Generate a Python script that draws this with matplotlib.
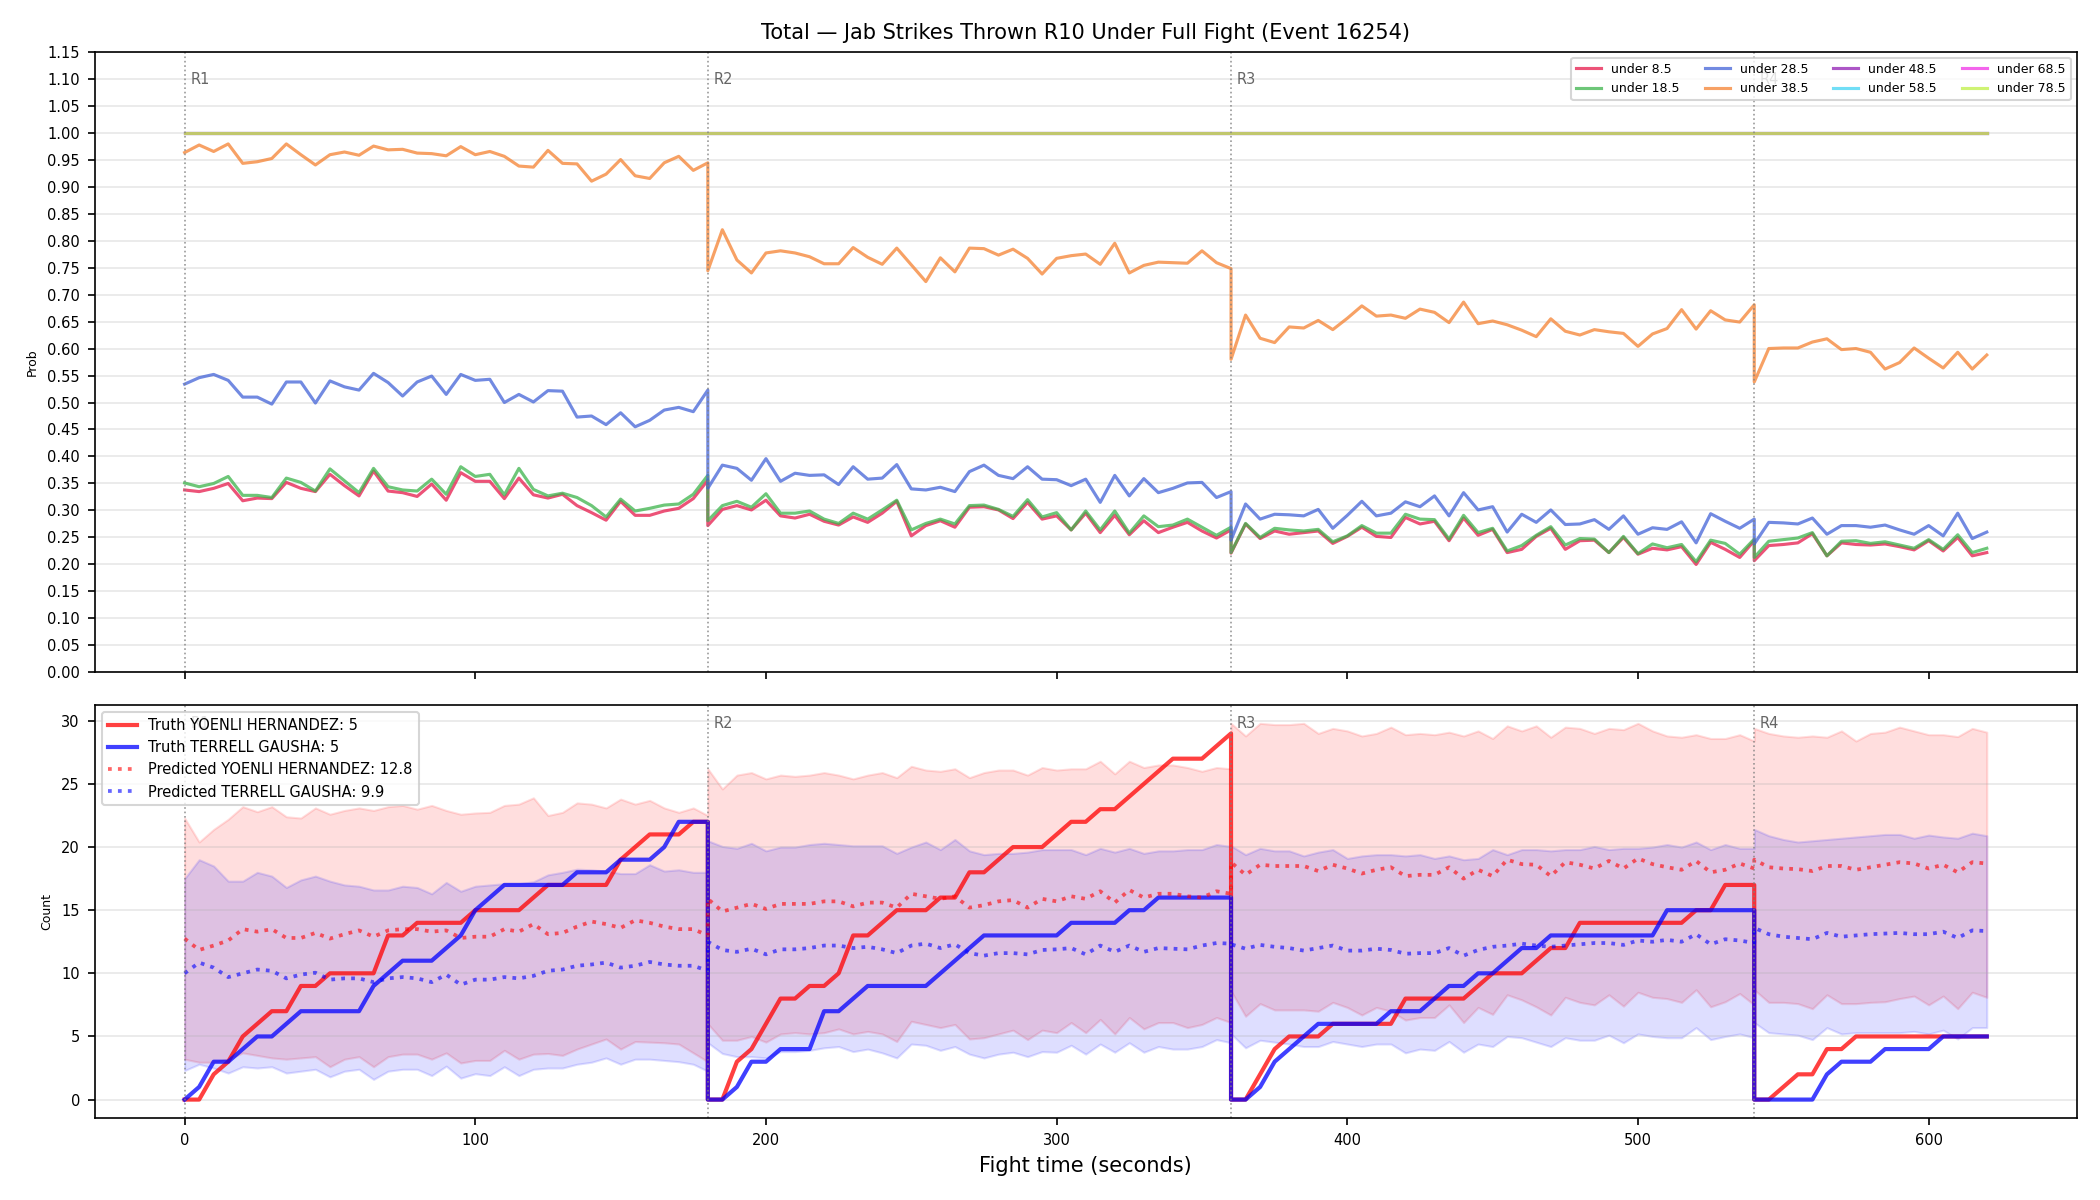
"""Live jab-strike totals: bucket probabilities over fight time, plus
truth vs predicted counts per fighter with prediction bands."""

import matplotlib
matplotlib.use("Agg")

import matplotlib.pyplot as plt
import matplotlib.transforms as mtransforms
import numpy as np

# round windows (seconds) and the sampling step of the model snapshots
ROUND_SPANS = [(0, 180), (180, 360), (360, 540), (540, 620)]
ROUND_NAMES = ["R1", "R2", "R3", "R4"]
STEP = 5

THRESHOLDS = ["under 8.5", "under 18.5", "under 28.5", "under 38.5",
              "under 48.5", "under 58.5", "under 68.5", "under 78.5"]
LINE_COLORS = ["#e6194b", "#3cb44b", "#4363d8", "#f58231",
               "#911eb4", "#42d4f4", "#f032e6", "#bfef45"]

# P(total under line), one list per round
p_under_8_5 = [
    [0.338, 0.335, 0.341, 0.350, 0.318, 0.323, 0.322, 0.352, 0.341, 0.335, 0.367, 0.346, 0.327,
     0.373, 0.336, 0.333, 0.326, 0.349, 0.319, 0.370, 0.354, 0.354, 0.322, 0.360, 0.329, 0.323,
     0.330, 0.309, 0.296, 0.282, 0.317, 0.291, 0.291, 0.299, 0.304, 0.322, 0.356],
    [0.272, 0.302, 0.309, 0.301, 0.319, 0.290, 0.286, 0.293, 0.280, 0.273, 0.288, 0.278, 0.295,
     0.317, 0.253, 0.272, 0.281, 0.269, 0.306, 0.307, 0.301, 0.285, 0.315, 0.284, 0.290, 0.264,
     0.295, 0.259, 0.291, 0.255, 0.281, 0.259, 0.269, 0.278, 0.262, 0.249, 0.264],
    [0.221, 0.275, 0.248, 0.262, 0.256, 0.259, 0.262, 0.239, 0.252, 0.269, 0.252, 0.250, 0.287,
     0.275, 0.280, 0.244, 0.286, 0.254, 0.265, 0.222, 0.228, 0.252, 0.267, 0.228, 0.244, 0.245,
     0.222, 0.250, 0.219, 0.230, 0.227, 0.233, 0.200, 0.241, 0.228, 0.213, 0.244],
    [0.207, 0.235, 0.237, 0.240, 0.257, 0.216, 0.240, 0.237, 0.236, 0.238, 0.233, 0.227, 0.244,
     0.225, 0.250, 0.216, 0.222],
]
p_under_18_5 = [
    [0.351, 0.344, 0.350, 0.363, 0.328, 0.328, 0.324, 0.360, 0.352, 0.336, 0.377, 0.355, 0.333,
     0.378, 0.344, 0.338, 0.336, 0.358, 0.330, 0.381, 0.363, 0.367, 0.329, 0.378, 0.339, 0.327,
     0.332, 0.324, 0.309, 0.288, 0.321, 0.299, 0.304, 0.310, 0.312, 0.330, 0.365],
    [0.281, 0.309, 0.317, 0.306, 0.331, 0.295, 0.295, 0.299, 0.284, 0.276, 0.295, 0.284, 0.301,
     0.319, 0.264, 0.276, 0.284, 0.275, 0.309, 0.310, 0.302, 0.289, 0.320, 0.288, 0.296, 0.264,
     0.299, 0.264, 0.299, 0.258, 0.290, 0.270, 0.273, 0.284, 0.269, 0.254, 0.269],
    [0.222, 0.276, 0.250, 0.267, 0.264, 0.262, 0.265, 0.242, 0.253, 0.272, 0.258, 0.258, 0.293,
     0.284, 0.283, 0.247, 0.291, 0.259, 0.267, 0.225, 0.235, 0.254, 0.270, 0.236, 0.248, 0.247,
     0.222, 0.252, 0.220, 0.238, 0.231, 0.237, 0.205, 0.245, 0.239, 0.219, 0.247],
    [0.213, 0.243, 0.246, 0.249, 0.259, 0.216, 0.243, 0.244, 0.239, 0.242, 0.236, 0.230, 0.246,
     0.228, 0.255, 0.222, 0.230],
]
p_under_28_5 = [
    [0.534, 0.546, 0.552, 0.541, 0.510, 0.510, 0.497, 0.538, 0.538, 0.499, 0.540, 0.529, 0.523,
     0.554, 0.537, 0.512, 0.538, 0.549, 0.515, 0.552, 0.541, 0.543, 0.500, 0.515, 0.501, 0.522,
     0.521, 0.473, 0.475, 0.459, 0.481, 0.455, 0.467, 0.486, 0.491, 0.483, 0.523],
    [0.341, 0.384, 0.378, 0.356, 0.396, 0.354, 0.369, 0.365, 0.366, 0.348, 0.381, 0.358, 0.360,
     0.385, 0.340, 0.338, 0.343, 0.335, 0.372, 0.384, 0.365, 0.359, 0.381, 0.358, 0.357, 0.346,
     0.358, 0.315, 0.365, 0.327, 0.359, 0.333, 0.341, 0.351, 0.352, 0.324, 0.335],
    [0.245, 0.312, 0.284, 0.293, 0.292, 0.290, 0.302, 0.267, 0.291, 0.317, 0.290, 0.295, 0.316,
     0.307, 0.327, 0.290, 0.333, 0.301, 0.307, 0.260, 0.293, 0.278, 0.301, 0.274, 0.275, 0.283,
     0.265, 0.290, 0.256, 0.268, 0.265, 0.279, 0.240, 0.294, 0.280, 0.267, 0.284],
    [0.238, 0.278, 0.277, 0.275, 0.286, 0.256, 0.272, 0.272, 0.269, 0.273, 0.264, 0.256, 0.272,
     0.253, 0.295, 0.248, 0.260],
]
p_under_38_5 = [
    [0.963, 0.977, 0.965, 0.979, 0.943, 0.946, 0.952, 0.979, 0.959, 0.940, 0.959, 0.964, 0.958,
     0.975, 0.968, 0.969, 0.962, 0.961, 0.957, 0.974, 0.959, 0.965, 0.956, 0.938, 0.936, 0.967,
     0.943, 0.942, 0.910, 0.923, 0.950, 0.920, 0.915, 0.944, 0.956, 0.930, 0.944],
    [0.744, 0.820, 0.764, 0.740, 0.777, 0.781, 0.777, 0.770, 0.757, 0.757, 0.787, 0.769, 0.756,
     0.786, 0.755, 0.724, 0.768, 0.742, 0.786, 0.785, 0.773, 0.784, 0.767, 0.738, 0.767, 0.772,
     0.775, 0.756, 0.795, 0.740, 0.754, 0.760, 0.759, 0.758, 0.781, 0.759, 0.748],
    [0.580, 0.662, 0.619, 0.611, 0.640, 0.638, 0.652, 0.635, 0.656, 0.679, 0.660, 0.662, 0.656,
     0.673, 0.667, 0.648, 0.686, 0.646, 0.651, 0.644, 0.634, 0.622, 0.655, 0.632, 0.625, 0.635,
     0.631, 0.628, 0.604, 0.627, 0.637, 0.672, 0.636, 0.670, 0.653, 0.649, 0.681],
    [0.538, 0.600, 0.601, 0.601, 0.612, 0.618, 0.598, 0.600, 0.593, 0.562, 0.574, 0.601, 0.582,
     0.564, 0.593, 0.562, 0.588],
]
# lines 48.5 and up sit at certainty the whole fight
p_high_lines = 1.0

# cumulative truth counts per fighter
truth_hernandez = [
    [0, 0, 2, 3, 5, 6, 7, 7, 9, 9, 10, 10, 10, 10, 13, 13, 14, 14, 14, 14, 15, 15, 15, 15, 16,
     17, 17, 17, 17, 17, 19, 20, 21, 21, 21, 22, 22],
    [0, 0, 3, 4, 6, 8, 8, 9, 9, 10, 13, 13, 14, 15, 15, 15, 16, 16, 18, 18, 19, 20, 20, 20, 21,
     22, 22, 23, 23, 24, 25, 26, 27, 27, 27, 28, 29],
    [0, 0, 2, 4, 5, 5, 5, 6, 6, 6, 6, 6, 8, 8, 8, 8, 8, 9, 10, 10, 10, 11, 12, 12, 14, 14, 14,
     14, 14, 14, 14, 14, 15, 15, 17, 17, 17],
    [0, 0, 1, 2, 2, 4, 4, 5, 5, 5, 5, 5, 5, 5, 5, 5, 5],
]
truth_gausha = [
    [0, 1, 3, 3, 4, 5, 5, 6, 7, 7, 7, 7, 7, 9, 10, 11, 11, 11, 12, 13, 15, 16, 17, 17, 17, 17,
     17, 18, 18, 18, 19, 19, 19, 20, 22, 22, 22],
    [0, 0, 1, 3, 3, 4, 4, 4, 7, 7, 8, 9, 9, 9, 9, 9, 10, 11, 12, 13, 13, 13, 13, 13, 13, 14, 14,
     14, 14, 15, 15, 16, 16, 16, 16, 16, 16],
    [0, 0, 1, 3, 4, 5, 6, 6, 6, 6, 6, 7, 7, 7, 8, 9, 9, 10, 10, 11, 12, 12, 13, 13, 13, 13, 13,
     13, 13, 13, 15, 15, 15, 15, 15, 15, 15],
    [0, 0, 0, 0, 0, 2, 3, 3, 3, 4, 4, 4, 4, 5, 5, 5, 5],
]

# model predicted totals
pred_hernandez = [
    [12.75, 11.85, 12.2, 12.6, 13.5, 13.3, 13.5, 12.8, 12.8, 13.2, 12.75, 13.1, 13.4, 12.9, 13.4,
     13.5, 13.5, 13.3, 13.4, 12.8, 12.9, 12.9, 13.5, 13.3, 13.9, 13.1, 13.2, 13.7, 14.1, 13.9,
     13.6, 14.2, 14.0, 13.7, 13.5, 13.5, 13.0],
    [15.9, 14.9, 15.2, 15.5, 15.1, 15.5, 15.5, 15.5, 15.7, 15.7, 15.3, 15.6, 15.6, 15.2, 16.3,
     16.1, 15.9, 16.1, 15.2, 15.4, 15.7, 15.8, 15.2, 15.9, 15.7, 16.1, 15.9, 16.5, 15.6, 16.6,
     16.0, 16.3, 16.3, 16.1, 16.0, 16.5, 16.3],
    [18.8, 17.8, 18.6, 18.5, 18.5, 18.5, 18.1, 18.6, 18.3, 17.9, 18.2, 18.4, 17.7, 17.8, 17.8,
     18.4, 17.5, 18.2, 17.7, 19.0, 18.65, 18.6, 17.7, 18.8, 18.6, 18.3, 18.9, 18.3, 19.1, 18.65,
     18.4, 18.2, 18.9, 18.0, 18.2, 18.7, 18.3],
    [19.0, 18.4, 18.3, 18.25, 18.1, 18.5, 18.5, 18.2, 18.4, 18.6, 18.8, 18.7, 18.3, 18.6, 18.0,
     18.8, 18.7],
]
pred_gausha = [
    [10.0, 10.85, 10.45, 9.7, 10.0, 10.3, 10.2, 9.6, 9.9, 10.05, 9.5, 9.6, 9.6, 9.3, 9.6, 9.7,
     9.6, 9.3, 9.9, 9.1, 9.5, 9.5, 9.7, 9.6, 9.8, 10.2, 10.3, 10.6, 10.7, 10.85, 10.45, 10.6,
     10.9, 10.7, 10.6, 10.6, 10.2],
    [12.5, 11.85, 11.7, 11.95, 11.5, 11.9, 11.9, 12.0, 12.2, 12.2, 12.0, 12.1, 11.9, 11.6, 12.2,
     12.35, 12.0, 12.3, 11.6, 11.4, 11.6, 11.6, 11.5, 11.85, 11.9, 12.0, 11.5, 12.2, 11.7, 12.2,
     11.7, 12.0, 11.95, 11.9, 12.2, 12.4, 12.35],
    [12.3, 11.95, 12.25, 12.1, 12.0, 11.8, 12.0, 12.2, 11.8, 11.8, 11.95, 11.85, 11.55, 11.6,
     11.6, 12.0, 11.4, 11.85, 12.1, 12.2, 12.35, 12.2, 12.1, 12.2, 12.3, 12.4, 12.4, 12.25, 12.6,
     12.5, 12.65, 12.5, 13.1, 12.3, 12.7, 12.6, 12.4],
    [13.6, 13.1, 12.9, 12.8, 12.7, 13.2, 12.9, 13.0, 13.1, 13.15, 13.2, 13.1, 13.1, 13.3, 12.8,
     13.4, 13.35],
]

# prediction band edges
band_hi_hernandez = [
    [22.3, 20.4, 21.4, 22.2, 23.2, 22.8, 23.2, 22.4, 22.3, 23.1, 22.6, 22.9, 23.1, 22.9, 23.2,
     23.3, 23.0, 23.3, 22.9, 22.6, 22.7, 22.75, 23.3, 23.4, 23.9, 22.5, 22.75, 23.5, 23.4, 23.1,
     23.8, 23.4, 23.7, 23.1, 22.75, 23.1, 22.5],
    [26.2, 24.6, 25.7, 25.9, 25.4, 25.7, 25.6, 25.7, 25.9, 25.7, 25.4, 25.7, 25.9, 25.5, 26.4,
     26.1, 26.0, 26.2, 25.5, 25.9, 26.1, 26.1, 25.7, 26.3, 26.1, 26.2, 26.2, 26.8, 25.8, 26.8,
     26.3, 26.5, 26.5, 26.3, 26.0, 26.3, 26.2],
    [29.8, 28.8, 29.8, 29.7, 29.7, 29.8, 29.0, 29.4, 29.2, 28.8, 29.0, 29.5, 28.9, 29.0, 28.9,
     29.1, 28.8, 29.2, 28.6, 29.6, 29.2, 29.6, 28.7, 29.5, 29.4, 29.0, 29.4, 29.3, 29.8, 29.2,
     28.8, 28.7, 28.9, 28.6, 28.6, 28.9, 28.4],
    [29.4, 29.0, 28.8, 28.7, 28.8, 28.7, 29.2, 28.4, 29.0, 29.1, 29.5, 29.2, 28.9, 28.9, 28.75,
     29.4, 29.1],
]
band_lo_hernandez = [
    [3.2, 2.96, 2.96, 3.2, 3.7, 3.5, 3.3, 3.2, 3.3, 3.4, 2.6, 3.2, 3.4, 2.6, 3.4, 3.6, 3.6, 3.2,
     3.7, 2.9, 3.1, 3.1, 3.9, 3.2, 3.6, 3.65, 3.5, 4.0, 4.4, 4.8, 4.0, 4.6, 4.55, 4.5, 4.4, 3.7,
     3.0],
    [6.0, 4.7, 4.7, 5.0, 4.55, 5.2, 5.3, 5.2, 5.3, 5.6, 5.2, 5.4, 5.2, 4.6, 6.2, 5.95, 5.7, 5.95,
     4.8, 4.9, 5.2, 5.5, 4.75, 5.5, 5.3, 6.1, 5.3, 6.35, 5.2, 6.5, 5.6, 6.1, 6.1, 5.7, 5.95, 6.5,
     6.1],
    [8.6, 6.6, 7.6, 7.1, 7.1, 7.1, 7.0, 7.7, 7.3, 6.7, 7.3, 7.0, 6.3, 6.5, 6.5, 7.5, 6.1, 7.3,
     6.75, 8.3, 7.9, 7.35, 6.7, 8.1, 7.7, 7.5, 8.3, 7.4, 8.5, 8.1, 8.0, 7.7, 8.7, 7.35, 7.75, 8.4,
     7.5],
    [8.7, 7.7, 7.7, 7.6, 7.2, 8.3, 7.6, 7.6, 7.7, 7.75, 8.0, 8.2, 7.5, 8.2, 7.2, 8.5, 8.1],
]
band_hi_gausha = [
    [17.5, 19.0, 18.5, 17.3, 17.3, 18.0, 17.7, 16.8, 17.4, 17.7, 17.3, 17.0, 16.9, 16.6, 16.6,
     16.9, 16.8, 16.3, 17.2, 16.5, 16.9, 17.0, 17.1, 17.1, 17.25, 17.8, 18.0, 18.25, 18.2, 18.1,
     17.9, 17.9, 18.6, 18.1, 18.2, 18.0, 18.0],
    [20.5, 20.05, 19.9, 20.3, 19.7, 20.0, 20.0, 20.2, 20.3, 20.2, 20.1, 20.1, 20.1, 19.5, 20.0,
     20.4, 19.8, 20.6, 19.7, 19.4, 19.5, 19.5, 19.6, 19.8, 19.8, 19.8, 19.4, 19.9, 19.6, 19.9,
     19.5, 19.7, 19.7, 19.8, 19.8, 20.2, 20.05],
    [20.1, 19.4, 19.9, 19.7, 19.7, 19.3, 19.6, 19.8, 19.1, 19.3, 19.4, 19.4, 19.3, 19.4, 19.1,
     19.3, 19.0, 19.1, 19.8, 19.4, 19.8, 19.8, 19.7, 19.8, 19.8, 20.05, 19.8, 19.9, 19.9, 20.0,
     20.2, 20.0, 20.4, 19.8, 20.2, 19.9, 19.9],
    [21.4, 20.9, 20.6, 20.4, 20.5, 20.6, 20.7, 20.8, 20.9, 21.0, 21.0, 20.7, 20.95, 20.8, 20.7,
     21.1, 20.9],
]
band_lo_gausha = [
    [2.3, 2.8, 2.5, 2.1, 2.6, 2.5, 2.6, 2.1, 2.25, 2.4, 1.8, 2.25, 2.4, 1.6, 2.25, 2.4, 2.4, 1.9,
     2.65, 1.7, 2.05, 1.9, 2.6, 1.9, 2.4, 2.5, 2.5, 2.8, 2.96, 3.3, 2.8, 3.2, 3.2, 3.1, 3.0, 2.8,
     2.25],
    [4.5, 3.65, 3.4, 3.4, 3.3, 3.8, 3.8, 3.9, 4.1, 4.2, 3.8, 4.0, 3.7, 3.3, 4.4, 4.3, 3.9, 4.2,
     3.6, 3.3, 3.6, 3.75, 3.4, 3.8, 3.75, 4.3, 3.6, 4.4, 3.75, 4.5, 3.75, 4.2, 4.0, 4.0, 4.2,
     4.75, 4.5],
    [5.2, 4.1, 4.7, 4.55, 4.4, 4.2, 4.2, 4.6, 4.4, 4.2, 4.4, 4.4, 3.7, 4.0, 3.9, 4.6, 3.75, 4.4,
     4.2, 5.0, 4.9, 4.55, 4.2, 4.9, 4.7, 4.7, 5.1, 4.5, 5.2, 5.0, 4.9, 4.9, 5.7, 4.75, 5.0, 5.2,
     4.9],
    [6.1, 5.3, 5.2, 5.1, 4.75, 5.7, 5.2, 5.3, 5.3, 5.3, 5.3, 5.4, 5.2, 5.5, 4.8, 5.7, 5.7],
]

FIGHTERS = ["YOENLI HERNANDEZ", "TERRELL GAUSHA"]
FINAL_TRUTH = [5, 5]
FINAL_PRED = [12.8, 9.9]


def stitch(rounds):
    return np.concatenate([np.asarray(r, dtype=float) for r in rounds])


def main():
    # each round restarts at its own boundary, so boundary times repeat
    t = np.concatenate([np.arange(a, b + 1, STEP) for a, b in ROUND_SPANS])

    probs = [stitch(p_under_8_5), stitch(p_under_18_5),
             stitch(p_under_28_5), stitch(p_under_38_5)]
    probs += [np.full(t.shape, p_high_lines) for _ in range(4)]

    fig, (ax1, ax2) = plt.subplots(
        2, 1, figsize=(14, 8), dpi=150, sharex=True,
        gridspec_kw={"height_ratios": [3, 2]},
    )
    fig.subplots_adjust(left=0.045, right=0.989, top=0.957, bottom=0.068, hspace=0.062)

    # --- top: probability of finishing under each line
    for name, color, p in zip(THRESHOLDS, LINE_COLORS, probs):
        ax1.plot(t, p, color=color, lw=1.5, alpha=0.75, label=name)
    ax1.set_ylim(0, 1.15)
    ax1.set_yticks(np.arange(0, 1.1501, 0.05))
    ax1.set_ylabel("Prob", fontsize=6)
    ax1.grid(axis="y", alpha=0.3)
    ax1.legend(loc="upper right", ncol=4, fontsize=6)
    ax1.set_title("Total \u2014 Jab Strikes Thrown R10 Under Full Fight (Event 16254)",
                  fontsize=10)

    # --- bottom: truth vs predicted counts
    colors = ["red", "blue"]
    truths = [stitch(truth_hernandez), stitch(truth_gausha)]
    preds = [stitch(pred_hernandez), stitch(pred_gausha)]
    bands = [(stitch(band_lo_hernandez), stitch(band_hi_hernandez)),
             (stitch(band_lo_gausha), stitch(band_hi_gausha))]

    for color, (lo, hi) in zip(colors, bands):
        ax2.fill_between(t, lo, hi, color=color, alpha=0.13, lw=1)
    for i, color in enumerate(colors):
        ax2.plot(t, truths[i], color=color, lw=2, alpha=0.75,
                 label=f"Truth {FIGHTERS[i]}: {FINAL_TRUTH[i]}")
    for i, color in enumerate(colors):
        ax2.plot(t, preds[i], color=color, lw=1.8, ls=":", alpha=0.6,
                 label=f"Predicted {FIGHTERS[i]}: {FINAL_PRED[i]}")
    ax2.set_ylabel("Count", fontsize=6)
    ax2.set_xlabel("Fight time (seconds)", fontsize=10)
    ax2.grid(axis="y", alpha=0.3)
    ax2.legend(loc="upper left", fontsize=7)

    # round markers on both panels
    for ax in (ax1, ax2):
        trans = mtransforms.blended_transform_factory(ax.transData, ax.transAxes)
        for (start, _), name in zip(ROUND_SPANS, ROUND_NAMES):
            ax.axvline(start, color="gray", ls=":", lw=0.8, alpha=0.8)
            ax.text(start + 2, 0.955, name, transform=trans, va="center",
                    fontsize=7, color="#555555", alpha=0.9)
        ax.tick_params(labelsize=7)

    fig.savefig("out.png", dpi=150)
    plt.close(fig)


if __name__ == "__main__":
    main()
